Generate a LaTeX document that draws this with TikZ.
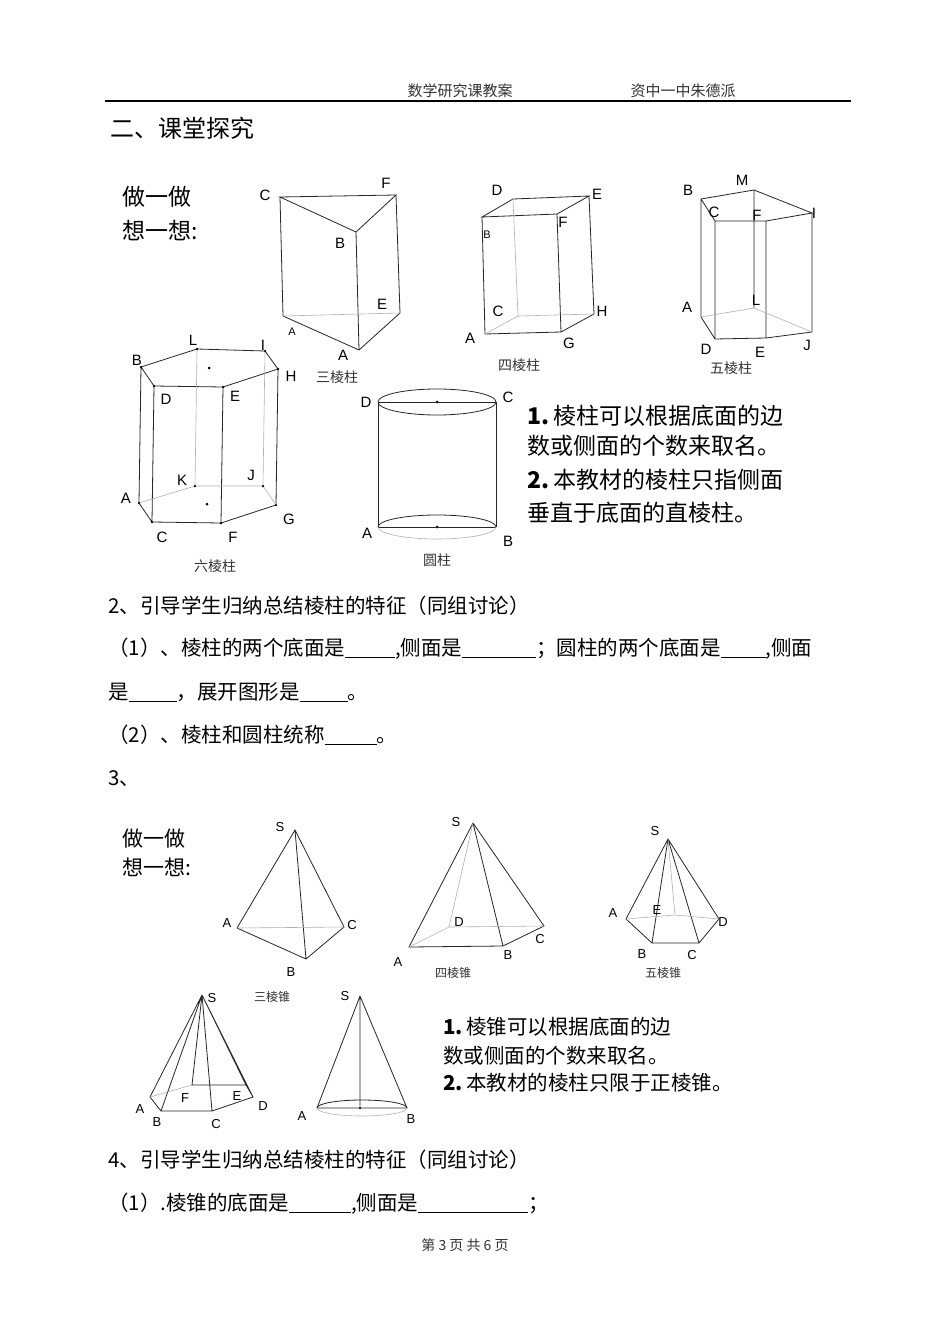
\documentclass[tikz,border=0pt]{standalone}
\usepackage{fontspec}
\setmainfont{Liberation Sans}
\newfontfamily\cjk{Noto Sans CJK SC}
\newcommand{\blk}[1]{\underline{\hspace{#1pt}}}
\begin{document}
\begin{tikzpicture}[x=1pt,y=-1pt,
 ed/.style={line width=0.8pt,black!85},
 hd/.style={line width=0.6pt,black!30},
 lb/.style={font=\fontsize{15}{15}\selectfont,inner sep=0pt},
 sl/.style={font=\fontsize{11}{11}\selectfont,inner sep=0pt},
 capt/.style={font=\cjk\fontsize{14}{14}\selectfont,inner sep=0pt,black!80},
 tx/.style={font=\cjk\fontsize{20.5}{20.5}\selectfont,inner sep=0pt,anchor=west},
 big/.style={font=\cjk\fontsize{23}{23}\selectfont,inner sep=0pt,anchor=west},
 dot/.style={circle,fill=black,inner sep=0pt,minimum size=3pt}]
\useasboundingbox (0,0) rectangle (950,1343);
\fill[white] (0,0) rectangle (950,1343);
% header
\node[capt,font=\cjk\fontsize{15}{15}\selectfont] (h1) at (460,91) {数学研究课教案};
\node[capt,font=\cjk\fontsize{15}{15}\selectfont] (h2) at (683,91) {资中一中朱德派};
\coordinate (l1) at (105,101); \coordinate (l2) at (851,101);
\draw[line width=1.3pt] (l1) -- (l2);
\node[big,font=\cjk\fontsize{24}{24}\selectfont] (t0) at (110,128) {二、课堂探究};
\node[big] (z1) at (122,197) {做一做};
\node[big] (z2) at (122,231) {想一想:};
% triangular prism
\foreach \n/\x/\y in {C/280/197,F/396/195,B/356/232,A/359/350,Ab/283/316,E/400/313}
  \coordinate (t\n) at (\x,\y);
\draw[ed] (tC)--(tF)--(tB)--cycle (tC)--(tAb)--(tA)--(tE)--(tF) (tB)--(tA);
\draw[hd] (tAb)--(tE);
\node[lb] (ltC) at (265,195) {C}; \node[lb] (ltF) at (386,183) {F};
\node[lb] (ltB) at (340,243) {B}; \node[lb] (ltE) at (382,304) {E};
\node[sl] (ltAb) at (292,332) {A}; \node[lb] (ltA) at (343,355) {A};
\node[capt] (c1) at (337,377) {三棱柱};
% quadrilateral prism
\foreach \n/\x/\y in {B/482/217,F/557/214,D/513/199,E/589/196,A/485/334,G/561/332,C/518/316,H/594/314}
  \coordinate (q\n) at (\x,\y);
\draw[ed] (qB)--(qF)--(qE)--(qD)--cycle (qB)--(qA)--(qG)--(qH)--(qE) (qF)--(qG);
\draw[hd] (qD)--(qC) (qA)--(qC)--(qH);
\node[lb] (lqD) at (497,190) {D}; \node[lb] (lqE) at (597,194) {E};
\node[lb] (lqF) at (563,222) {F}; \node[sl] (lqB) at (487,235) {B};
\node[lb] (lqC) at (498,311) {C}; \node[lb] (lqH) at (602,311) {H};
\node[lb] (lqA) at (470,338) {A}; \node[lb] (lqG) at (569,343) {G};
\node[capt] (c2) at (519,365) {四棱柱};
% pentagonal prism
\foreach \n/\x/\y in {B/701/199,M/754/190,I/812/213,C/715/221,F/766/221,A/701/317,L/754/308,J/812/332,D/715/339,E/766/338}
  \coordinate (p\n) at (\x,\y);
\draw[ed] (pB)--(pM)--(pI)--(pF)--(pC)--cycle (pB)--(pA)--(pD)--(pE)--(pJ)--(pI)
  (pC)--(pD) (pF)--(pE) (pM)--(pL);
\draw[hd] (pA)--(pL)--(pJ);
\node[lb] (lpB) at (688,190) {B}; \node[lb] (lpM) at (742,180) {M};
\node[lb] (lpI) at (814,213) {I}; \node[lb] (lpC) at (714,212) {C};
\node[lb] (lpF) at (757,215) {F}; \node[lb] (lpA) at (687,307) {A};
\node[lb] (lpL) at (756,300) {L}; \node[lb] (lpD) at (706,349) {D};
\node[lb] (lpE) at (760,352) {E}; \node[lb] (lpJ) at (807,345) {J};
\node[capt] (c3) at (731,368) {五棱柱};
% hexagonal prism
\foreach \n/\x/\y in {B/141/367,L/197/349,I/265/351,H/278/369,E/223/387,D/154/386,A/139/503,K/195/486,J/263/486,G/276/505,F/221/523,C/152/522}
  \coordinate (x\n) at (\x,\y);
\draw[ed] (xB)--(xL)--(xI)--(xH)--(xE)--(xD)--cycle (xB)--(xA)--(xC)--(xF)--(xG)--(xH)
  (xD)--(xC) (xE)--(xF);
\draw[hd] (xA)--(xK)--(xJ)--(xG) (xL)--(xK) (xI)--(xJ);
\node[dot] (xt) at (209,368) {}; \node[dot] (xb) at (207,504) {};
\foreach \n in {B,L,I,H,E,D,A,K,J,G,F,C} \node[dot,minimum size=2.5pt] at (x\n) {};
\node[lb] (lxL) at (193,340) {L}; \node[lb] (lxI) at (263,345) {I};
\node[lb] (lxB) at (137,360) {B}; \node[lb] (lxH) at (291,376) {H};
\node[lb] (lxD) at (166,399) {D}; \node[lb] (lxE) at (235,396) {E};
\node[lb] (lxK) at (182,480) {K}; \node[lb] (lxJ) at (251,475) {J};
\node[lb] (lxA) at (126,498) {A}; \node[lb] (lxG) at (289,519) {G};
\node[lb] (lxC) at (162,537) {C}; \node[lb] (lxF) at (233,537) {F};
\node[capt] (c4) at (215,566) {六棱柱};
% cylinder
\coordinate (yD) at (378,402); \coordinate (yC) at (496,402);
\coordinate (yA) at (378,527); \coordinate (yB) at (496,527);
\node[dot] (yt) at (437,402) {}; \node[dot] (yb) at (437,527) {};
\draw[ed] (437,402) ellipse (59 and 13);
\draw[ed] (yD)--(yA) (yC)--(yB) (yD)--(yC) (yA)--(yB);
\draw[ed] (yA) arc[start angle=180,end angle=360,x radius=59,y radius=12];
\draw[hd] (yB) arc[start angle=0,end angle=180,x radius=59,y radius=12];
\node[lb] (lyD) at (366,402) {D}; \node[lb] (lyC) at (508,397) {C};
\node[lb] (lyA) at (367,533) {A}; \node[lb] (lyB) at (508,541) {B};
\node[capt] (c5) at (437,560) {圆柱};
% text block 1
\node[big] (n1) at (527,416) {\textbf{1.}\,棱柱可以根据底面的边};
\node[big] (n2) at (527,446) {数或侧面的个数来取名。};
\node[big] (n3) at (527,480) {\textbf{2.}\,本教材的棱柱只指侧面};
\node[big] (n4) at (527,513) {垂直于底面的直棱柱。};
% section 2 lines
\node[tx] (s2) at (108,606) {2、引导学生归纳总结棱柱的特征（同组讨论）};
\node[tx] (s3) at (108,649) {（1）、棱柱的两个底面是\blk{50},侧面是\blk{74}；圆柱的两个底面是\blk{45},侧面};
\node[tx] (s4) at (108,692) {是\blk{48}，展开图形是\blk{48}。};
\node[tx] (s5) at (108,735) {（2）、棱柱和圆柱统称\blk{52}。};
\node[tx] (s6) at (108,779) {3、};
\node[big,font=\cjk\fontsize{21}{21}\selectfont] (z3) at (122,839) {做一做};
\node[big,font=\cjk\fontsize{21}{21}\selectfont] (z4) at (122,867) {想一想:};
% tri pyramid
\foreach \n/\x/\y in {S/295/830,A/237/928,C/344/927,B/306/959} \coordinate (a\n) at (\x,\y);
\draw[ed] (aS)--(aA)--(aB)--(aC)--cycle (aS)--(aB);
\draw[hd] (aA)--(aC);
\node[sl,font=\fontsize{13}{13}\selectfont] (laS) at (280,827) {S};
\node[sl,font=\fontsize{13}{13}\selectfont] (laA) at (227,923) {A};
\node[sl,font=\fontsize{13}{13}\selectfont] (laC) at (352,925) {C};
\node[sl,font=\fontsize{13}{13}\selectfont] (laB) at (291,972) {B};
\node[capt,font=\cjk\fontsize{12}{12}\selectfont] (c6) at (272,997) {三棱锥};
% quad pyramid
\foreach \n/\x/\y in {S/473/823,D/449/927,C/544/926,A/409/947,B/503/946} \coordinate (b\n) at (\x,\y);
\draw[ed] (bS)--(bA)--(bB)--(bC)--cycle (bS)--(bB);
\draw[hd] (bS)--(bD) (bA)--(bD)--(bC);
\node[sl,font=\fontsize{13}{13}\selectfont] (lbS) at (456,822) {S};
\node[sl,font=\fontsize{13}{13}\selectfont] (lbD) at (459,922) {D};
\node[sl,font=\fontsize{13}{13}\selectfont] (lbC) at (540,939) {C};
\node[sl,font=\fontsize{13}{13}\selectfont] (lbA) at (398,962) {A};
\node[sl,font=\fontsize{13}{13}\selectfont] (lbB) at (508,955) {B};
\node[capt,font=\cjk\fontsize{12}{12}\selectfont] (c7) at (453,973) {四棱锥};
% penta pyramid
\foreach \n/\x/\y in {S/668/839,A/626/919,E/675/915,D/719/919,B/652/943,C/699/943} \coordinate (e\n) at (\x,\y);
\draw[ed] (eS)--(eA)--(eB)--(eC)--(eD)--cycle (eS)--(eB) (eS)--(eC);
\draw[hd] (eS)--(eE) (eA)--(eE)--(eD);
\node[sl,font=\fontsize{13}{13}\selectfont] (leS) at (655,831) {S};
\node[sl,font=\fontsize{13}{13}\selectfont] (leA) at (613,913) {A};
\node[sl,font=\fontsize{13}{13}\selectfont] (leE) at (657,910) {E};
\node[sl,font=\fontsize{13}{13}\selectfont] (leD) at (723,922) {D};
\node[sl,font=\fontsize{13}{13}\selectfont] (leB) at (642,954) {B};
\node[sl,font=\fontsize{13}{13}\selectfont] (leC) at (692,955) {C};
\node[capt,font=\cjk\fontsize{12}{12}\selectfont] (c8) at (663,973) {五棱锥};
% hex pyramid
\foreach \n/\x/\y in {S/202/995,A/150/1097,F/192/1085,E/246/1085,D/253/1097,C/212/1111,B/161/1111} \coordinate (g\n) at (\x,\y);
\draw[ed] (gS)--(gA)--(gB)--(gC)--(gD)--(gE)--(gF)--(gS) (gS)--(gB) (gS)--(gC) (gS)--(gD) (gS)--(gE);
\draw[hd] (gA)--(gF);
\node[sl,font=\fontsize{13}{13}\selectfont] (lgS) at (212,998) {S};
\node[sl,font=\fontsize{13}{13}\selectfont] (lgA) at (140,1109) {A};
\node[sl,font=\fontsize{13}{13}\selectfont] (lgB) at (157,1122) {B};
\node[sl,font=\fontsize{13}{13}\selectfont] (lgF) at (185,1098) {F};
\node[sl,font=\fontsize{13}{13}\selectfont] (lgE) at (237,1096) {E};
\node[sl,font=\fontsize{13}{13}\selectfont] (lgD) at (263,1106) {D};
\node[sl,font=\fontsize{13}{13}\selectfont] (lgC) at (216,1124) {C};
% cone
\coordinate (kS) at (360,996); \coordinate (kA) at (317,1108); \coordinate (kB) at (407,1108);
\node[dot,minimum size=2.5pt] (kO) at (360,1108) {};
\draw[ed] (kS)--(kA) (kS)--(kB) (kS)--(kO) (kA)--(kB);
\draw[ed] (kA) arc[start angle=180,end angle=360,x radius=45,y radius=8];
\draw[hd] (kB) arc[start angle=0,end angle=180,x radius=45,y radius=8];
\node[sl,font=\fontsize{13}{13}\selectfont] (lkS) at (345,996) {S};
\node[sl,font=\fontsize{13}{13}\selectfont] (lkA) at (302,1116) {A};
\node[sl,font=\fontsize{13}{13}\selectfont] (lkB) at (411,1119) {B};
% text block 2
\node[tx] (m1) at (443,1027) {\textbf{1.}\,棱锥可以根据底面的边};
\node[tx] (m2) at (443,1056) {数或侧面的个数来取名。};
\node[tx] (m3) at (443,1083) {\textbf{2.}\,本教材的棱柱只限于正棱锥。};
% section 4
\node[tx] (s7) at (108,1160) {4、引导学生归纳总结棱柱的特征（同组讨论）};
\node[tx] (s8) at (108,1204) {（1）.棱锥的底面是\blk{62},侧面是\blk{110}；};
\node[capt,font=\cjk\fontsize{14}{14}\selectfont] (ft) at (465,1245) {第 3 页 共 6 页};
\end{tikzpicture}
\end{document}
